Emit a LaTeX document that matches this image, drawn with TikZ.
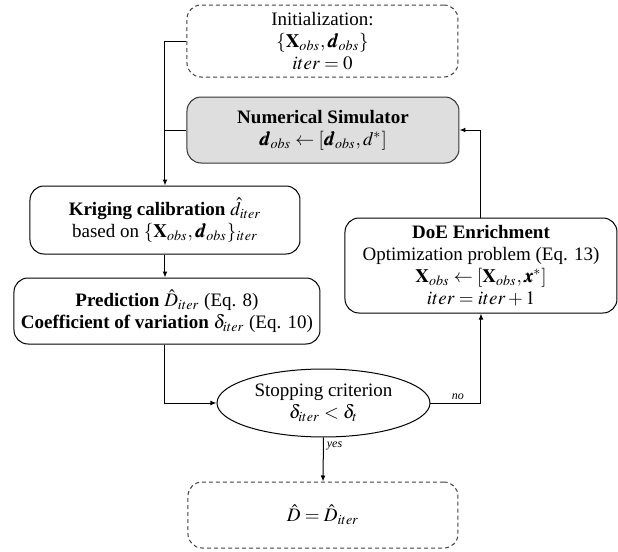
\documentclass[tikz,border=0pt]{standalone}
\usepackage{mathptmx}
\usepackage{bm}
\usepackage[no-math]{fontspec}
\setmainfont{Liberation Serif}
\usetikzlibrary{%
    arrows.meta,
    positioning,
    shapes.geometric
}

\tikzset{
    txt/.style={font=\fontsize{9.5}{11}\selectfont},
    box/.style={txt, draw, rounded corners=7pt, align=center,
                inner sep=1pt, line width=0.5pt},
    dashbox/.style={box, draw=black!75, dash pattern=on 2pt off 1.5pt},
    simbox/.style={box, fill=black!13, draw=black!80},
    test/.style={txt, draw, ellipse, align=center, inner sep=0pt,
                 line width=0.5pt},
    flow/.style={line width=0.5pt, -{Latex[length=3pt,width=2.4pt]}},
    link/.style={line width=0.5pt},
    answer/.style={font=\fontsize{6}{7}\selectfont\itshape, inner sep=1.5pt}
}

\begin{document}
\begin{tikzpicture}[x=0.5pt, y=-0.5pt]
    \useasboundingbox (0,0) rectangle (618,552);

    \node (init)  [dashbox, minimum width=135.5pt, minimum height=36pt] at (322.5,41)
        {Initialization:\\ $\{\mathbf{X}_{obs},\bm{d}_{obs}\}$\\ $iter=0$};
    \node (sim)   [simbox, minimum width=136pt, minimum height=33pt] at (323,130)
        {\textbf{Numerical Simulator}\\ \boldmath$\bm{d}_{obs}\leftarrow[\bm{d}_{obs},d^{*}]$};
    \node (krig)  [box, minimum width=135pt, minimum height=34pt] at (165,220)
        {\textbf{Kriging calibration} $\hat{d}_{iter}$\\ based on $\{\mathbf{X}_{obs},\bm{d}_{obs}\}_{iter}$};
    \node (pred)  [box, minimum width=153pt, minimum height=33pt] at (167,311)
        {\textbf{Prediction} $\hat{D}_{iter}$ (Eq. 8)\\ \textbf{Coefficient of variation} $\delta_{iter}$ (Eq. 10)};
    \node (doe)   [box, minimum width=136pt, minimum height=47.5pt] at (481,265.5)
        {\textbf{DoE Enrichment}\\ Optimization problem (Eq. 13)\\
         $\mathbf{X}_{obs}\leftarrow[\mathbf{X}_{obs},\bm{x}^{*}]$\\ $iter=iter+1$};
    \node (stop)  [test, minimum width=106.5pt, minimum height=34pt] at (323.5,403)
        {Stopping criterion\\ $\delta_{iter}<\delta_{t}$};
    \node (final) [dashbox, minimum width=135pt, minimum height=33pt] at (323,515)
        {$\hat{D}=\hat{D}_{iter}$};

    % loop back to the kriging step
    \draw[flow] (init.west) -| (krig.north);
    \draw[link] (sim.west) -- (krig.north |- sim.west);

    \draw[flow] (krig.south) -- (krig.south |- pred.north);
    \draw[flow] (pred.south -| krig.south) |- (stop.west);

    \draw[flow] (stop.east) -| node[answer, pos=0.27, above] {no} (doe.south);
    \draw[flow] (doe.north) |- (sim.east);
    \draw[flow] (stop.south) -- node[answer, pos=0.2, right] {yes} (final.north);
\end{tikzpicture}
\end{document}
